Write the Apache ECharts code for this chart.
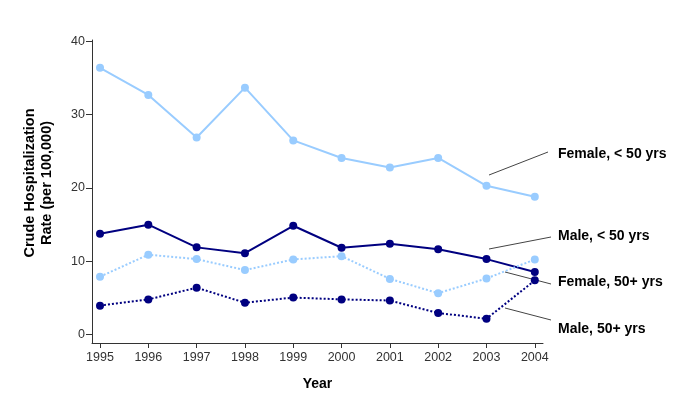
<!DOCTYPE html>
<html>
<head>
<meta charset="utf-8">
<script src="https://cdn.jsdelivr.net/npm/echarts@6/dist/echarts.min.js"></script>
<style>
  html, body { margin: 0; padding: 0; background: #fff; }
  #chart { width: 685px; height: 418px; }
</style>
</head>
<body>
<div id="chart"></div>
<script>
const years = [1995, 1996, 1997, 1998, 1999, 2000, 2001, 2002, 2003, 2004];
const femaleUnder50 = [36.4, 32.7, 26.9, 33.7, 26.5, 24.1, 22.8, 24.1, 20.3, 18.8];
const maleUnder50 = [13.75, 15.0, 11.9, 11.1, 14.85, 11.85, 12.4, 11.65, 10.3, 8.55];
const female50Plus = [7.9, 10.9, 10.3, 8.8, 10.25, 10.7, 7.6, 5.65, 7.65, 10.25];
const male50Plus = [3.95, 4.8, 6.4, 4.35, 5.05, 4.8, 4.65, 2.95, 2.15, 7.4];
const yTicks = [0, 10, 20, 30, 40];

const lightBlue = "#99ccff";
const navy = "#000080";
const font = "'Liberation Sans', Arial, sans-serif";

const pairs = (values) => years.map((y, i) => [y, values[i]]);

function lineSeries(name, values, color, dotted) {
  return {
    name,
    type: "line",
    data: pairs(values),
    symbol: "circle",
    symbolSize: 8,
    itemStyle: { color },
    lineStyle: { color, width: 2, type: dotted ? [2, 2] : "solid" },
    emphasis: { disabled: true },
    z: 3,
  };
}

// annotation text + leader lines (pixel space)
const labels = [
  { text: "Female, < 50 yrs", x: 558, y: 154, from: [489, 175], to: [548, 152] },
  { text: "Male, < 50 yrs", x: 558, y: 236, from: [489, 249], to: [551, 237] },
  { text: "Female, 50+ yrs", x: 558, y: 282, from: [505, 272], to: [551, 284] },
  { text: "Male, 50+ yrs", x: 558, y: 329, from: [505, 308], to: [551, 320] },
];

const graphics = [];
labels.forEach((l) => {
  graphics.push({
    type: "line",
    shape: { x1: l.from[0], y1: l.from[1], x2: l.to[0], y2: l.to[1] },
    style: { stroke: "#444", lineWidth: 1 },
  });
  graphics.push({
    type: "text",
    x: l.x,
    y: l.y,
    style: {
      text: l.text,
      font: "bold 14px " + font,
      fill: "#000",
      verticalAlign: "middle",
    },
  });
});

const chart = echarts.init(document.getElementById("chart"));
chart.setOption({
  animation: false,
  textStyle: { fontFamily: font },
  grid: { left: 92, right: 142, top: 40, bottom: 75, outerBoundsMode: "none", containLabel: false },
  xAxis: {
    type: "value",
    min: 1994.834,
    max: 2004.17,
    name: "Year",
    nameLocation: "middle",
    nameGap: 34,
    nameTextStyle: { fontWeight: "bold", fontSize: 14, color: "#000", fontFamily: font },
    axisLine: { show: true, onZero: false, lineStyle: { color: "#333", width: 1 } },
    axisTick: { show: true, length: 5, customValues: years, lineStyle: { color: "#333" } },
    axisLabel: { customValues: years, formatter: (v) => String(v), color: "#333", fontSize: 12.5, margin: 8, fontFamily: font },
    splitLine: { show: false },
  },
  yAxis: {
    type: "value",
    min: -1.15,
    max: 40.2,
    name: "Crude Hospitalization\nRate (per 100,000)",
    nameLocation: "middle",
    nameGap: 37,
    nameTextStyle: { fontWeight: "bold", fontSize: 14.5, color: "#000", lineHeight: 17, fontFamily: font, padding: [0, 0, 0, 17] },
    axisLine: { show: true, onZero: false, lineStyle: { color: "#333", width: 1 } },
    axisTick: { show: true, length: 6, customValues: yTicks, lineStyle: { color: "#333" } },
    axisLabel: { customValues: yTicks, color: "#333", fontSize: 12.5, margin: 7, fontFamily: font },
    splitLine: { show: false },
  },
  series: [
    lineSeries("Female, < 50 yrs", femaleUnder50, lightBlue, false),
    lineSeries("Male, < 50 yrs", maleUnder50, navy, false),
    lineSeries("Female, 50+ yrs", female50Plus, lightBlue, true),
    lineSeries("Male, 50+ yrs", male50Plus, navy, true),
  ],
  graphic: graphics,
});
</script>
</body>
</html>
